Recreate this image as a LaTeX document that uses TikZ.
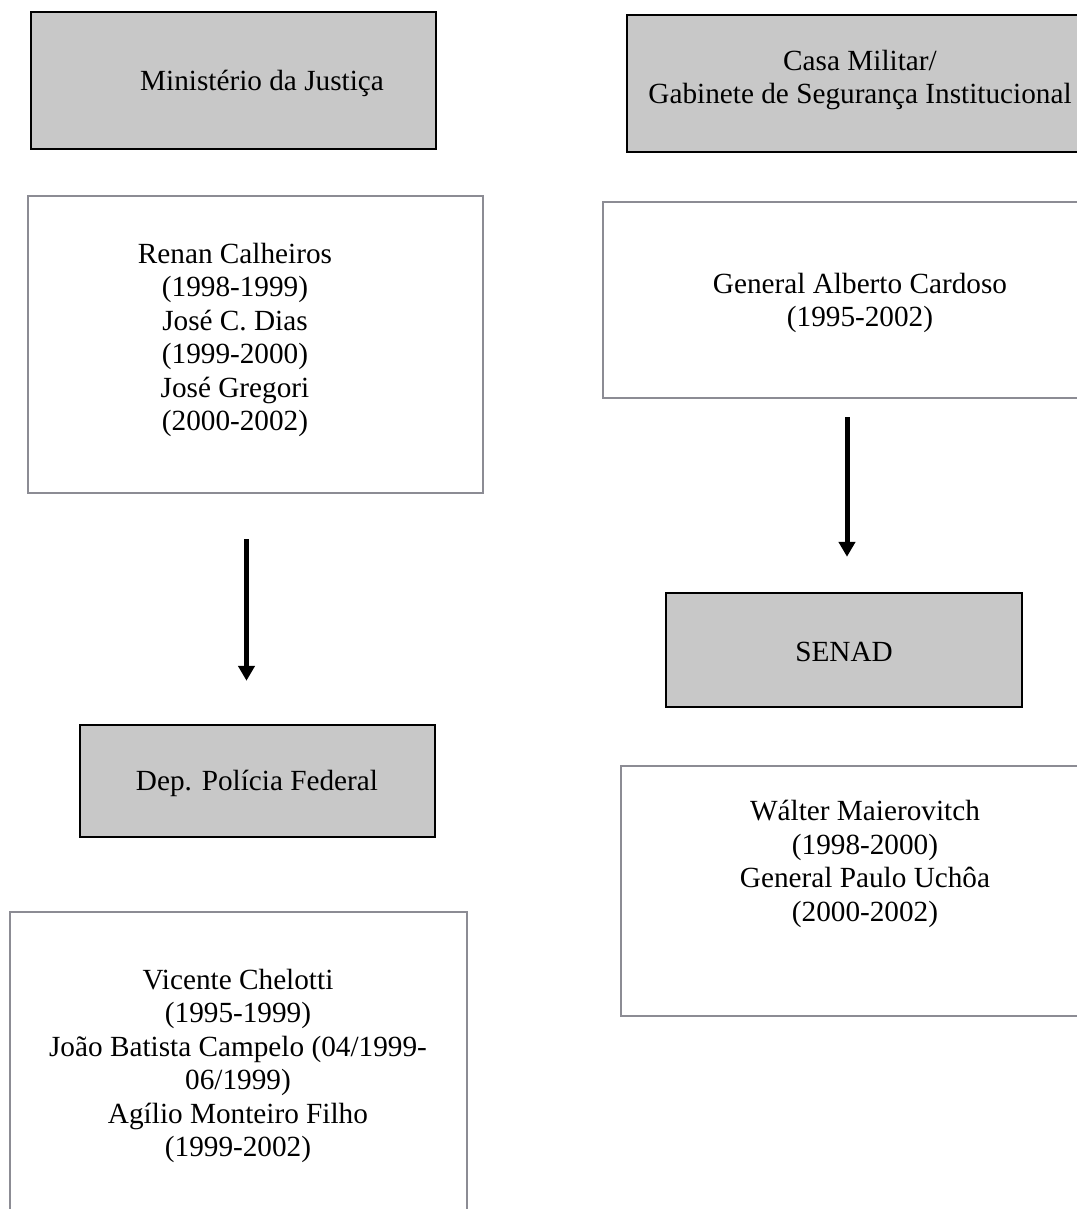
\documentclass[tikz,border=0pt]{standalone}
\usepackage{fontspec}
\setmainfont{Liberation Serif}
\usetikzlibrary{arrows.meta,calc}
\definecolor{boxgrey}{RGB}{200,200,200}
\definecolor{framegrey}{RGB}{140,140,148}

\begin{document}
\begin{tikzpicture}
            [
            x=0.4pt,y=-0.4pt,
            office/.style={draw=black,line width=1pt,fill=boxgrey,inner sep=0pt},
            holder/.style={draw=framegrey,line width=1.1pt,fill=white,inner sep=0pt},
            names/.style={align=center,inner sep=0pt,
                font={\fontsize{11.7}{13.4}\selectfont}},
            flow/.style={line width=2pt,-{Triangle[width=6.5pt,length=6pt]}},
            ]
            % Page
            \clip (0,0) rectangle (1077,1209);

            % Ministerio da Justica
            \node[office,minimum width=162pt,minimum height=54.8pt] (mj) at (233.5,80.5) {};
            \node[names] (mjtxt) at (262,83) {Ministério da Justiça};
            \node[holder,minimum width=182pt,minimum height=118.8pt] (renan) at (255.5,344.5) {};
            \node[names] (renantxt) at (235,340) {Renan Calheiros\\ (1998-1999)\\José C. Dias\\(1999-2000)\\José Gregori\\(2000-2002)};
            \node[office,minimum width=142pt,minimum height=44.8pt] (dpf) at (257.5,781) {};
            \node[names] (dpftxt) at (257,783) {Dep. Polícia Federal};
            \node[holder,minimum width=182.8pt,minimum height=127.2pt] (chelotti) at (238.5,1071) {};
            \node[names] (chelottitxt) at (238,1066) {Vicente Chelotti\\(1995-1999)\\João Batista Campelo (04/1999-\\06/1999)\\Agílio Monteiro Filho\\(1999-2002)};

            % Casa Militar
            \node[office,minimum width=185.2pt,minimum height=54.8pt] (cm) at (858.5,83.5) {};
            \node[names] (cmtxt) at (860,80) {Casa Militar/\\Gabinete de Segurança Institucional};
            \node[holder,minimum width=194.8pt,minimum height=78.4pt] (cardoso) at (846.5,300) {};
            \node[names] (cardosotxt) at (860,303) {General Alberto Cardoso\\(1995-2002)};
            \node[office,minimum width=142.4pt,minimum height=45.6pt] (senad) at (844,650) {};
            \node[names] (senadtxt) at (844,652) {SENAD};
            \node[holder,minimum width=187.6pt,minimum height=100pt] (walter) at (855.5,891) {};
            \node[names] (waltertxt) at (865,864) {Wálter Maierovitch\\(1998-2000)\\General Paulo Uchôa\\(2000-2002)};

            % Arrows
            \draw[flow] ($(renan.south)+(-9,45)$) -- ($(dpf.north)+(-11,-43)$);
            \draw[flow] ($(cardoso.south)+(0.5,18)$) -- ($(senad.north)+(3,-35)$);

        \end{tikzpicture}
\end{document}
